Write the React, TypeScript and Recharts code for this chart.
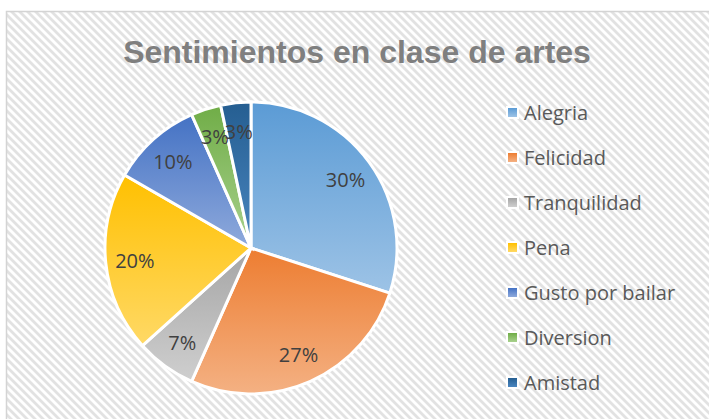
import { Cell, Legend, Pie, PieChart } from 'recharts'

const title = 'Sentimientos en clase de artes'
const categories = ['Alegria', 'Felicidad', 'Tranquilidad', 'Pena', 'Gusto por bailar', 'Diversion', 'Amistad']
const votes = [9, 8, 2, 6, 3, 1, 1]
const topColors = ['#5b9bd5', '#ed7d31', '#a5a5a5', '#ffc000', '#4472c4', '#70ad47', '#255e91']
const bottomColors = ['#9dc3e6', '#f4b183', '#cfcfcf', '#ffd966', '#8faadc', '#a9d18e', '#4a86c0']

const data = categories.map((name, i) => ({ name, value: votes[i] }))

const RAD = Math.PI / 180

function renderLabel({ cx, cy, midAngle, outerRadius, percent }: any) {
  const r = outerRadius * 0.8
  const x = cx + r * Math.cos(-midAngle * RAD)
  const y = cy + r * Math.sin(-midAngle * RAD)
  return (
    <text x={x} y={y} textAnchor="middle" dominantBaseline="central" fill="#404040" fontSize={20} fontFamily="'Open Sans', sans-serif">
      {`${Math.round(percent * 100)}%`}
    </text>
  )
}

// recharts sorts pie legend entries by name, so keep the data order here
function renderLegend() {
  return (
    <div style={{ fontFamily: "'Open Sans', sans-serif", fontSize: 20, color: '#595959' }}>
      {categories.map((name, i) => (
        <div key={name} style={{ height: 45, display: 'flex', alignItems: 'center', whiteSpace: 'nowrap' }}>
          <svg width={13} height={13} style={{ display: 'block' }}>
            <rect x={0} y={0} width={13} height={13} fill="#fff" />
            <rect x={2} y={2} width={9} height={9} fill={`url(#slice-${i})`} />
          </svg>
          <span style={{ marginLeft: 5, lineHeight: '45px' }}>{name}</span>
        </div>
      ))}
    </div>
  )
}

export default function App() {
  return (
    <div style={{ position: 'absolute', left: 0, top: 0, width: 709, height: 419, overflow: 'hidden' }}>
      <svg width={709} height={419} style={{ position: 'absolute', left: 0, top: 0 }}>
        <defs>
          <pattern id="hatch" patternUnits="userSpaceOnUse" width={8} height={8}>
            <rect width={8} height={8} fill="#fff" />
            <path d="M-2,-2 L10,10 M-2,6 L2,10 M6,-2 L10,2" stroke="#e2e2e2" strokeWidth={2.8} />
          </pattern>
          {categories.map((c, i) => (
            <linearGradient key={c} id={`slice-${i}`} x1="0" y1="0" x2="0" y2="1">
              <stop offset="0%" stopColor={topColors[i]} />
              <stop offset="100%" stopColor={bottomColors[i]} />
            </linearGradient>
          ))}
        </defs>
        <rect width={709} height={419} fill="#fff" />
        <rect x={6.5} y={11.5} width={720} height={420} fill="url(#hatch)" stroke="#d4d4d4" strokeWidth={1.5} />
        <text x={357} y={63} textAnchor="middle" fill="#7f7f7f" fontSize={32} fontWeight="bold" fontFamily="'Liberation Sans', Arial, sans-serif">
          {title}
        </text>
      </svg>
      <div style={{ position: 'absolute', left: 0, top: 0 }}>
        <PieChart width={709} height={419} margin={{ top: 0, right: 0, bottom: 0, left: 0 }}>
          <Pie
            data={data}
            dataKey="value"
            nameKey="name"
            cx={251}
            cy={248}
            outerRadius={146}
            startAngle={90}
            endAngle={-270}
            stroke="#fff"
            strokeWidth={3}
            label={renderLabel}
            labelLine={false}
            isAnimationActive={false}
          >
            {data.map((d, i) => (
              <Cell key={d.name} fill={`url(#slice-${i})`} />
            ))}
          </Pie>
          <Legend
            layout="vertical"
            align="right"
            verticalAlign="top"
            wrapperStyle={{ left: 506, top: 90, width: 200 }}
            content={renderLegend}
          />
        </PieChart>
      </div>
    </div>
  )
}
